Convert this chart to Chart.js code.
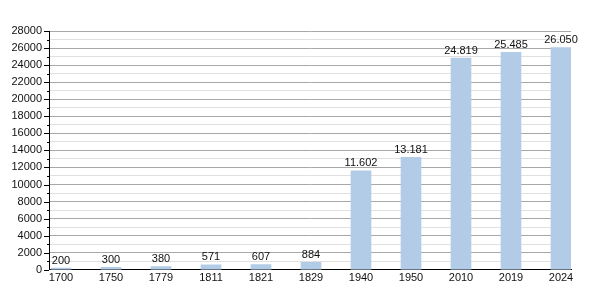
<!DOCTYPE html>
<html>
<head>
<meta charset="utf-8">
<script src="https://cdn.jsdelivr.net/npm/chart.js@4/dist/chart.umd.min.js"></script>
<style>
	html, body { margin: 0; padding: 0; background: #fff; }
	#wrap { width: 600px; height: 300px; }
</style>
</head>
<body>
<div id="wrap"><canvas id="popChart"></canvas></div>
<script>
// data
var years = ['1700', '1750', '1779', '1811', '1821', '1829', '1940', '1950', '2010', '2019', '2024'];
var population = [200, 300, 380, 571, 607, 884, 11602, 13181, 24819, 25485, 26050];
var yMax = 28000;

var fontFam = '"Liberation Sans", Arial, sans-serif';

function fmt(v) {
	// dotted thousands, like the original
	return String(v).replace(/\B(?=(\d{3})+(?!\d))/g, '.');
}

var points = [];
for (var i = 0; i < years.length; i++) {
	points.push({ x: i, y: population[i] });
}

// value labels over the bars
var barLabels = {
	id: 'barLabels',
	afterDatasetsDraw: function (chart) {
		var ctx = chart.ctx;
		var meta = chart.getDatasetMeta(0);
		ctx.save();
		ctx.font = '11px ' + fontFam;
		ctx.fillStyle = '#111';
		ctx.textAlign = 'center';
		ctx.textBaseline = 'bottom';
		meta.data.forEach(function (bar, idx) {
			ctx.fillText(fmt(population[idx]), bar.x, bar.y - 2);
		});
		ctx.restore();
	}
};

// long ticks every 2000, short ones in between
var yTicks = {
	id: 'yTicks',
	afterDraw: function (chart) {
		var ctx = chart.ctx;
		var y = chart.scales.y;
		var x0 = chart.chartArea.left;
		ctx.save();
		ctx.strokeStyle = '#000';
		ctx.lineWidth = 1;
		y.ticks.forEach(function (t) {
			var py = Math.round(y.getPixelForValue(t.value)) + 0.5;
			var len = (t.value % 2000 === 0) ? 5 : 2;
			ctx.beginPath();
			ctx.moveTo(x0 - len, py);
			ctx.lineTo(x0, py);
			ctx.stroke();
		});
		ctx.restore();
	}
};

var ctx = document.getElementById('popChart');
var popChart = new Chart(ctx, {
	type: 'bar',
	data: {
		datasets: [{
			data: points,
			backgroundColor: 'rgb(178,203,230)',
			borderWidth: 0,
			barThickness: 20
		}]
	},
	options: {
		responsive: true,
		maintainAspectRatio: false,
		animation: false,
		layout: {
			padding: { top: 31, right: 29, bottom: 13, left: 0 }
		},
		plugins: {
			legend: { display: false },
			tooltip: { enabled: false }
		},
		scales: {
			x: {
				type: 'linear',
				offset: false,
				min: -0.24,
				max: 10.2,
				grid: { display: false, drawTicks: false, offset: false },
				border: { color: '#000', width: 1 },
				ticks: {
					stepSize: 1,
					includeBounds: false,
					autoSkip: false,
					maxRotation: 0,
					padding: 2,
					color: '#111',
					font: { family: fontFam, size: 11 },
					callback: function (v) {
						return Number.isInteger(v) ? years[v] : '';
					}
				}
			},
			y: {
				min: 0,
				max: yMax,
				grid: {
					drawTicks: false,
					color: function (c) {
						return c.tick.value % 2000 === 0 ? '#a8a8a8' : '#e0e0e0';
					}
				},
				border: { color: '#000', width: 1 },
				ticks: {
					stepSize: 1000,
					autoSkip: false,
					padding: 7,
					color: '#111',
					font: { family: fontFam, size: 11 },
					callback: function (v) {
						return v % 2000 === 0 ? String(v) : '';
					}
				},
				afterFit: function (scale) {
					scale.width = 49;
				}
			}
		}
	},
	plugins: [barLabels, yTicks]
});
</script>
</body>
</html>
